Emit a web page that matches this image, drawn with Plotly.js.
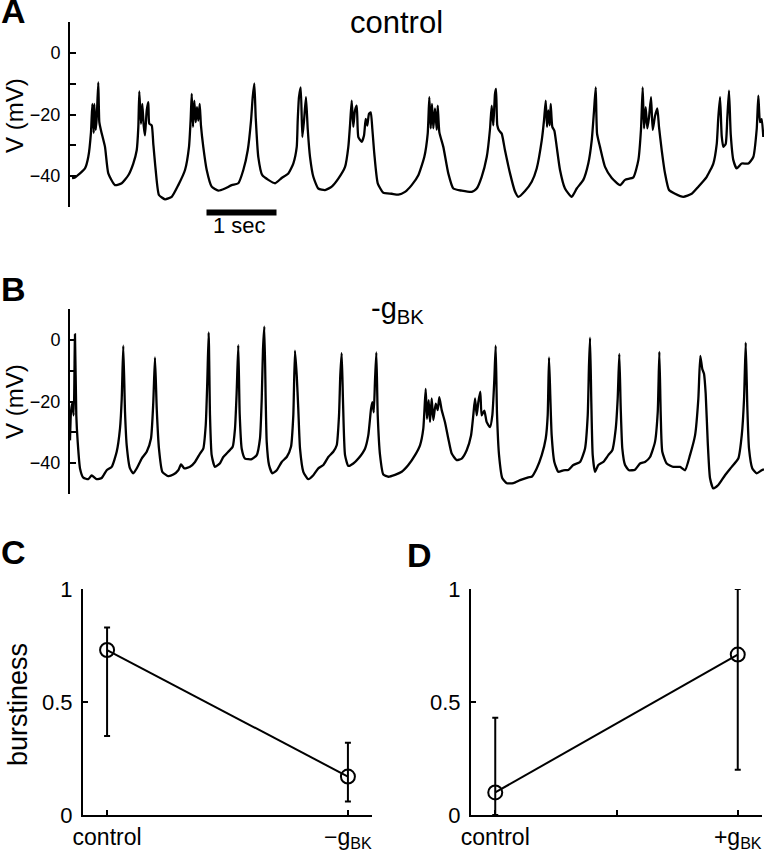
<!DOCTYPE html>
<html>
<head>
<meta charset="utf-8">
<script src="https://cdn.plot.ly/plotly-3.0.1.min.js"></script>
<style>
  html, body { margin: 0; padding: 0; background: #fff; }
  #fig { width: 764px; height: 853px; }
</style>
</head>
<body>
<div id="fig"></div>
<script>
// Voltage traces ------------------------------------------------------------
// time in s, membrane potential in mV
const tA = [0.029,0.071,0.214,0.261,0.300,0.319,0.339,0.347,0.367,0.381,
  0.404,0.419,0.443,0.500,0.547,0.643,0.739,0.833,0.904,0.953,
  0.976,0.990,1.014,1.033,1.053,1.071,1.096,1.119,1.133,1.167,
  1.190,1.224,1.271,1.357,1.453,1.547,1.643,1.700,1.724,1.739,
  1.757,1.776,1.796,1.814,1.833,1.853,1.871,1.904,1.953,2.024,
  2.119,2.214,2.310,2.404,2.476,2.539,2.586,2.610,2.633,2.653,
  2.690,2.747,2.833,2.929,3.024,3.119,3.190,3.239,3.253,3.271,
  3.296,3.319,3.343,3.371,3.396,3.429,3.476,3.547,3.643,3.739,
  3.833,3.929,3.976,4.000,4.024,4.047,4.071,4.096,4.119,4.167,
  4.200,4.224,4.247,4.271,4.296,4.319,4.347,4.396,4.476,4.596,
  4.690,4.786,4.881,4.976,5.061,5.110,5.133,5.153,5.171,5.190,
  5.214,5.239,5.253,5.276,5.333,5.404,5.476,5.596,5.739,5.810,
  5.881,5.953,6.000,6.024,6.047,6.071,6.086,6.104,6.129,6.167,
  6.214,6.286,6.357,6.404,6.500,6.596,6.667,6.739,6.771,6.796,
  6.814,6.833,6.853,6.867,6.890,6.919,6.953,7.000,7.071,7.167,
  7.239,7.333,7.404,7.453,7.486,7.510,7.529,7.571,7.643,7.739,
  7.857,7.929,8.047,8.119,8.157,8.181,8.200,8.224,8.247,8.271,
  8.300,8.324,8.357,8.390,8.414,8.453,8.500,8.557,8.643,8.761,
  8.881,8.976,9.096,9.190,9.239,9.261,9.286,9.310,9.333,9.367,
  9.390,9.414,9.439,9.476,9.524,9.596,9.690,9.761,9.810,9.833,
  9.857,9.881,9.904];
const vA = [-40.6,-40.4,-37.5,-33.8,-25.7,-16.6,-26,-16.6,-25,-21.4,
  -9.6,-22.5,-25.2,-30.5,-39.1,-42.9,-42.3,-39.7,-35.9,-31.6,
  -24.1,-12.5,-23,-16.6,-23.6,-26.8,-18.7,-16,-23,-23.5,
  -29.5,-38,-46.1,-47.5,-46.7,-42.9,-38,-30.5,-21.4,-13.3,
  -24,-15.5,-22.5,-17.6,-22,-16.6,-23.6,-30.5,-38,-43.4,
  -44.7,-44,-42.9,-42.3,-38,-31.6,-22,-14.4,-9.9,-21,
  -33.8,-39.7,-41.2,-42.3,-40.6,-39.1,-35.9,-30.5,-21.9,-14.4,
  -11.2,-27.3,-22,-14.4,-24.7,-33.8,-40.2,-44,-44.5,-43.4,
  -40.8,-37,-30.5,-23.5,-15.5,-24,-18.7,-17.1,-27.3,-28.9,
  -26.8,-21.4,-23.6,-19.8,-19.3,-24.7,-32.7,-42.3,-45.4,-45.7,
  -46,-45.1,-42.9,-39.7,-33.8,-26.2,-14.4,-24.5,-16.6,-24.5,
  -18,-25,-17.1,-25.7,-30.5,-39.1,-44,-44.7,-45.1,-44,
  -40.2,-33.8,-24.7,-17.1,-23.5,-13.3,-11.7,-23.5,-25.2,-26.2,
  -31.6,-39.1,-45,-46.7,-44.8,-41.8,-37.5,-28.4,-22,-15.5,
  -24,-18.7,-23.5,-16.6,-24,-25.2,-30.5,-38,-44,-46.7,
  -44,-41.2,-35.9,-28.4,-18.7,-11.2,-26.2,-30.5,-37,-40.6,
  -42.9,-41.2,-40.4,-34.8,-24.7,-11.2,-24.5,-17.6,-24.5,-21,
  -14.4,-25,-20.5,-18,-24,-31.6,-39.1,-44.5,-45.7,-46.7,
  -45.7,-43.4,-40.2,-35.9,-29.5,-21,-14.4,-27,-30.5,-29.5,
  -21,-12.3,-26.5,-34.8,-37.5,-35.9,-35.9,-33.8,-24.7,-13.9,
  -22.5,-21.5,-27.3];

const tB = [0.000,0.014,0.033,0.053,0.071,0.090,0.110,0.143,0.190,0.261,
  0.310,0.381,0.453,0.524,0.596,0.667,0.714,0.739,0.761,0.786,
  0.810,0.857,0.904,0.953,1.024,1.096,1.157,1.190,1.214,1.239,
  1.271,1.319,1.404,1.476,1.547,1.586,1.633,1.714,1.786,1.857,
  1.904,1.939,1.961,1.981,2.000,2.024,2.071,2.143,2.190,2.261,
  2.324,2.357,2.381,2.404,2.424,2.453,2.500,2.596,2.667,2.714,
  2.739,2.757,2.776,2.796,2.810,2.843,2.890,2.953,3.024,3.096,
  3.157,3.190,3.214,3.239,3.261,3.286,3.333,3.404,3.476,3.547,
  3.619,3.690,3.761,3.810,3.843,3.861,3.881,3.900,3.929,3.976,
  4.047,4.119,4.214,4.261,4.300,4.319,4.339,4.357,4.376,4.396,
  4.429,4.476,4.547,4.643,4.739,4.833,4.929,5.000,5.047,5.081,
  5.100,5.124,5.143,5.167,5.190,5.224,5.253,5.276,5.310,5.357,
  5.404,5.453,5.524,5.596,5.667,5.729,5.761,5.786,5.810,5.833,
  5.861,5.881,5.919,5.953,6.000,6.033,6.061,6.081,6.100,6.129,
  6.176,6.239,6.333,6.429,6.547,6.596,6.667,6.739,6.796,6.824,
  6.843,6.861,6.881,6.919,6.976,7.047,7.119,7.190,7.286,7.357,
  7.396,7.414,7.429,7.447,7.467,7.500,7.547,7.619,7.690,7.747,
  7.796,7.824,7.847,7.867,7.890,7.929,7.986,8.071,8.143,8.214,
  8.286,8.357,8.396,8.419,8.439,8.461,8.524,8.619,8.714,8.786,
  8.857,8.929,8.976,9.004,9.033,9.057,9.081,9.110,9.143,9.190,
  9.261,9.357,9.453,9.547,9.596,9.629,9.653,9.676,9.700,9.747,
  9.810,9.881,9.914];
const vB = [-32.6,-23.4,-20.5,-24.5,1.8,-24.5,-33.1,-41.7,-44.7,-45.2,
  -44,-45.2,-44.8,-42.3,-41.2,-36.3,-28.8,-19.1,-1.9,-23.4,
  -34.2,-41.7,-43.3,-41.7,-38.5,-36.3,-32,-20.2,-5.7,-22.3,
  -35.3,-42.8,-44.2,-43.7,-42.3,-40.4,-41.7,-41.2,-39.6,-36.9,
  -35.3,-27.7,-13.8,2.4,-24.5,-37.4,-41.2,-40,-38,-36.3,
  -34.7,-28.8,-17,-1.7,-24,-35.3,-38.5,-38.7,-37.4,-32,
  -19.1,-3,4.3,-20,-33.1,-40.6,-43.3,-42.3,-39.6,-38,
  -34.7,-24.5,-3.5,-11.6,-22.4,-35.3,-42.8,-45.2,-43.9,-41.7,
  -40.6,-38,-36.3,-34.2,-24.5,-11.6,-4.3,-20,-37.4,-40.9,
  -40.1,-38.5,-35.3,-31,-22.4,-20.2,-23.5,-13.2,-4.1,-24.5,
  -37.4,-43.7,-44.4,-43.8,-42.8,-40.6,-37.4,-34.2,-28.8,-15.9,
  -25.6,-19.6,-26.7,-19,-26,-20.7,-22.8,-18.6,-22.8,-26.7,
  -32,-36.9,-39,-38.5,-35.8,-31,-24.5,-19,-24.5,-20.2,
  -16.8,-24.5,-23,-26.7,-28.3,-24.5,-13.2,-1.9,-24,-37.4,
  -44.9,-46.5,-46.5,-45.5,-44.6,-44.4,-41.7,-37.4,-32,-24.5,
  -5.7,-18,-31,-39.6,-42.8,-42.3,-42.2,-40.6,-39.6,-35.3,
  -24.5,-8.2,0.7,-20,-37.4,-42.8,-40.6,-39.6,-37.4,-35.8,
  -28.8,-19,-4.6,-22,-35.3,-40.6,-42.3,-42.1,-40.1,-39.6,
  -38,-33.1,-23.4,-3.9,-24.5,-36.3,-40.1,-41.2,-41.2,-42.3,
  -37.4,-31,-19.1,-5.2,-9.5,-11,-17.5,-33.1,-44.9,-48.2,
  -47.1,-43.9,-41.2,-38.5,-31,-19.1,-0.9,-22,-35.3,-41.7,
  -43.3,-42.3,-42];

if (tA.length !== vA.length || tB.length !== vB.length) {
    throw new Error('trace length mismatch ' + tA.length + '/' + vA.length + ' ' + tB.length + '/' + vB.length);
}

const vTicks = [-50, -40, -30, -20, -10, 0, 10];
const vTickText = ['', '\u221240', '', '\u221220', '', '0', ''];
const scaleBarStart = 1.95;   // s
const scaleBarLen = 1;        // s

// Burstiness summary --------------------------------------------------------
const xPos = [1, 2];
const catC = ['control', '\u2212g<sub>BK</sub>'];
const burstC = [0.73, 0.17];
const errUpC = [0.10, 0.15];
const errDnC = [0.38, 0.11];

const dTickVals = [1, 1.5, 2];
const catD = ['control', '', '+g<sub>BK</sub>'];
const burstD = [0.10, 0.71];
const errUpD = [0.33, 0.29];
const errDnD = [0.10, 0.51];

const bTicks = [0, 0.5, 1];
const bTickText = ['0', '0.5', '1'];

// Layout helpers -------------------------------------------------------------
const W = 764, H = 853;
const FONT = 'Liberation Sans, Arial, Helvetica, sans-serif';
function fx(p){ return p / W; }
function fy(p){ return 1 - p / H; }

function traceY(top, bottom){
    return {
        domain: [fy(bottom), fy(top)], range: [-50, 10],
        showline: true, linewidth: 2, linecolor: '#000',
        ticks: 'inside', ticklen: 6, tickwidth: 2, tickcolor: '#000',
        tickvals: vTicks, ticktext: vTickText,
        tickfont: {family: FONT, size: 18, color: '#000'},
        ticklabelstandoff: 4,
        showgrid: false, zeroline: false, fixedrange: true
    };
}
function traceX(){
    return {domain: [fx(70), 1], range: [0, 9.914], visible: false,
            showgrid: false, zeroline: false};
}
function burstX(left, right, vals, text){
    return {
        domain: [fx(left), fx(right)], range: [0.9, 2.1],
        showline: true, linewidth: 2, linecolor: '#000',
        ticks: 'inside', ticklen: 5, tickwidth: 2, tickcolor: '#000',
        tickvals: vals, ticktext: text,
        tickfont: {family: FONT, size: 23, color: '#000'},
        ticklabelstandoff: 0,
        showgrid: false, zeroline: false
    };
}
function burstY(){
    return {
        domain: [fy(815), fy(589)], range: [0, 1],
        showline: true, linewidth: 2, linecolor: '#000',
        ticks: 'inside', ticklen: 5, tickwidth: 2, tickcolor: '#000',
        tickvals: bTicks, ticktext: bTickText,
        tickfont: {family: FONT, size: 22, color: '#000'},
        ticklabelstandoff: 4,
        showgrid: false, zeroline: false
    };
}
function burstTrace(y, up, dn, xa, ya){
    return {
        x: xPos, y: y, xaxis: xa, yaxis: ya,
        type: 'scatter', mode: 'lines+markers', cliponaxis: false,
        line: {color: '#000', width: 2},
        marker: {symbol: 'circle-open', size: 14, color: '#000', line: {width: 2, color: '#000'}},
        error_y: {type: 'data', symmetric: false, array: up, arrayminus: dn,
                  color: '#000', thickness: 2, width: 3},
        showlegend: false, hoverinfo: 'skip'
    };
}
function label(text, x, y, size, extra){
    return Object.assign({
        text: text, x: x, y: y, xref: 'paper', yref: 'paper',
        xanchor: 'center', yanchor: 'middle', showarrow: false,
        font: {family: FONT, size: size, color: '#000'}
    }, extra || {});
}
function voltageTrace(t, v, xa, ya){
    return {x: t, y: v, xaxis: xa, yaxis: ya, type: 'scatter', mode: 'lines',
            line: {color: '#000', width: 2.3, shape: 'spline', smoothing: 0.5},
            showlegend: false, hoverinfo: 'skip'};
}

// MAIN ------------------------------------------------------------------------
let data = [
    voltageTrace(tA, vA, 'x', 'y'),
    voltageTrace(tB, vB, 'x2', 'y2'),
    burstTrace(burstC, errUpC, errDnC, 'x3', 'y3'),
    burstTrace(burstD, errUpD, errDnD, 'x4', 'y4')
];

let layout = {
    width: W, height: H,
    margin: {l: 0, r: 0, t: 0, b: 0},
    paper_bgcolor: '#fff', plot_bgcolor: '#fff',
    xaxis: traceX(), yaxis: Object.assign(traceY(22, 207), {anchor: 'x'}),
    xaxis2: Object.assign(traceX(), {anchor: 'y2'}),
    yaxis2: Object.assign(traceY(309, 494), {anchor: 'x2'}),
    xaxis3: Object.assign(burstX(83, 372, xPos, catC), {anchor: 'y3'}),
    yaxis3: Object.assign(burstY(), {anchor: 'x3'}),
    xaxis4: Object.assign(burstX(471, 762, dTickVals, catD), {anchor: 'y4'}),
    yaxis4: Object.assign(burstY(), {anchor: 'x4'}),
    shapes: [{
        type: 'line', xref: 'x', yref: 'paper',
        x0: scaleBarStart, x1: scaleBarStart + scaleBarLen,
        y0: fy(212.5), y1: fy(212.5),
        line: {color: '#000', width: 6}
    }],
    annotations: [
        label('<b>A</b>', fx(-1), fy(11), 34, {xanchor: 'left'}),
        label('<b>B</b>', fx(-1), fy(289), 34, {xanchor: 'left'}),
        label('<b>C</b>', fx(-1), fy(552), 34, {xanchor: 'left'}),
        label('<b>D</b>', fx(405), fy(555), 34, {xanchor: 'left'}),
        label('control', fx(396), fy(22), 31),
        label('-g<sub>BK</sub>', fx(397), fy(310), 29),
        label('V (mV)', fx(14), fy(116), 24, {textangle: -90}),
        label('V (mV)', fx(14), fy(402), 24, {textangle: -90}),
        label('burstiness', fx(18), fy(705), 27, {textangle: -90}),
        label('1 sec', scaleBarStart + scaleBarLen / 2 - 0.03, fy(226), 22, {xref: 'x'})
    ]
};

Plotly.newPlot('fig', data, layout, {staticPlot: true, displayModeBar: false});
</script>
</body>
</html>
